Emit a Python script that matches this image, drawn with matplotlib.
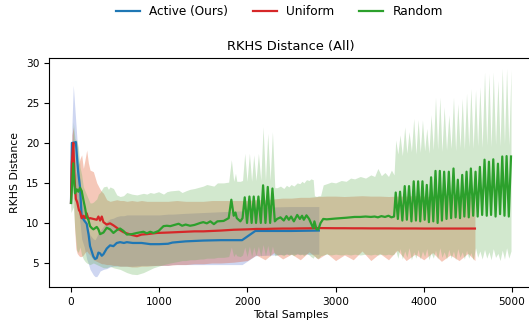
import numpy as np
import matplotlib
matplotlib.use("Agg")
import matplotlib.pyplot as plt

# ---- Active (Ours) ----
act_x = [0, 10, 26, 55, 80, 102, 121, 150, 178, 200, 216, 254, 273, 292, 311, 330, 349, 368, 405, 443,
         481, 519, 557, 600, 633, 700, 800, 900, 1000, 1100, 1150, 1300, 1500, 1700, 1940, 2090, 2300, 2500, 2810]
act_mean = [12.5, 20.0, 20.0, 20.1, 16.5, 14.5, 10.8, 10.3, 9.9, 8.5, 7.1, 5.8, 5.5, 5.6, 6.3, 6.2, 5.9, 6.1, 6.8, 7.2,
            7.1, 7.5, 7.6, 7.5, 7.6, 7.5, 7.5, 7.35, 7.35, 7.4, 7.55, 7.7, 7.8, 7.85, 7.85, 9.0, 9.0, 9.0, 9.05]
act_hi = [13.5, 22.0, 27.2, 22.5, 18.5, 15.4, 12.9, 11.5, 9.6, 9.0, 8.5, 8.0, 7.9, 8.3, 8.8, 9.0, 9.3, 9.6, 10.2, 10.5,
          10.6, 10.8, 10.9, 10.9, 11.0, 11.0, 11.0, 11.0, 11.0, 11.1, 11.1, 11.2, 11.3, 11.4, 11.5, 12.0, 12.0, 12.05, 12.05]
act_lo = [11.3, 16.0, 14.0, 13.0, 12.0, 10.0, 8.0, 7.0, 5.5, 4.8, 4.2, 3.5, 3.3, 3.3, 3.6, 4.0, 4.1, 4.2, 4.3, 4.5,
          4.6, 4.6, 4.6, 4.6, 4.6, 4.6, 4.7, 4.7, 4.7, 4.7, 4.8, 4.8, 4.8, 4.8, 4.8, 5.9, 6.0, 6.1, 6.1]

# ---- Uniform ----
uni_x_a = [0, 10, 26, 40, 55, 70, 90, 102, 121, 140, 159, 178, 197, 216, 254, 292, 311, 330, 349, 368,
           405, 443, 481, 519, 557, 595, 633, 690, 747, 800, 860, 974, 1100, 1200, 1300, 1400, 1500, 1600, 1700, 1845]
uni_mean_a = [12.5, 17.5, 20.0, 15.5, 13.0, 12.6, 11.6, 11.4, 10.6, 10.9, 10.6, 11.2, 10.5, 10.6, 10.5, 10.4, 10.8, 10.3, 10.8, 10.1,
              9.8, 9.95, 9.7, 9.4, 9.1, 8.85, 8.7, 8.5, 8.35, 8.55, 8.6, 8.75, 8.8, 8.85, 8.9, 8.95, 8.95, 9.0, 9.05, 9.15]
uni_hi_a = [13.5, 21.0, 22.0, 19.0, 16.0, 17.0, 17.5, 18.0, 18.5, 16.8, 17.9, 19.1, 17.5, 16.6, 16.4, 15.0, 14.6, 14.2, 13.9, 13.7,
            12.9, 12.7, 12.8, 12.9, 12.8, 12.8, 12.7, 12.8, 12.7, 12.8, 12.7, 12.7, 12.7, 12.8, 12.7, 12.7, 12.7, 12.8, 12.8, 12.8]
uni_lo_a = [11.4, 14.0, 15.0, 9.5, 6.8, 6.2, 5.9, 5.8, 5.8, 6.0, 6.3, 6.5, 6.2, 6.0, 5.4, 5.2, 5.1, 5.0, 4.9, 4.9,
            4.8, 4.8, 4.7, 4.7, 4.6, 4.6, 4.6, 4.5, 4.5, 4.6, 4.6, 4.7, 4.7, 4.8, 4.8, 4.9, 4.9, 5.0, 5.0, 5.1]
uni_x_b = [2000, 2100, 2200, 2300, 2400, 2500, 2600, 2700, 2800, 2900, 3000, 3100, 3200, 3300,
           3400, 3500, 3600, 3700, 3800, 3900, 4000, 4100, 4200, 4300, 4400, 4500, 4580]
uni_mean_b = [9.2, 9.25, 9.25, 9.28, 9.3, 9.3, 9.32, 9.33, 9.36, 9.35, 9.34, 9.34, 9.33, 9.33,
              9.32, 9.32, 9.32, 9.31, 9.31, 9.31, 9.3, 9.3, 9.3, 9.3, 9.3, 9.3, 9.3]
uni_hi_b = [12.8, 12.9, 12.9, 13.0, 13.1, 13.1, 13.2, 13.2, 13.3, 13.35, 13.35, 13.3, 13.35, 13.4,
            13.35, 13.35, 13.3, 13.35, 13.35, 13.4, 13.35, 13.3, 13.35, 13.35, 13.3, 13.35, 13.3]
uni_lo_b = [5.3, 6.0, 5.4, 6.3, 5.5, 6.1, 5.4, 6.4, 5.5, 6.2, 5.3, 6.0, 5.4, 6.5,
            5.3, 6.2, 5.4, 6.6, 5.3, 6.1, 5.4, 6.3, 5.2, 6.0, 5.3, 6.2, 5.3]

# ---- Random ----
rnd_x_a = [0, 26, 45, 65, 83, 102, 121, 140, 159, 178, 197, 216, 235, 254, 292, 311, 330, 368, 405, 424,
           443, 481, 519, 557, 595, 633, 690, 747, 822, 860, 898, 936, 993, 1049, 1087, 1125, 1220, 1260, 1300, 1350,
           1400, 1466, 1500, 1540, 1580, 1620, 1660, 1730, 1788]
rnd_mean_a = [12.5, 17.45, 13.7, 14.2, 13.9, 14.4, 14.0, 12.9, 11.9, 10.7, 10.4, 9.6, 9.36, 9.2, 9.5, 9.2, 8.6, 8.8, 9.4, 9.3,
              9.2, 8.75, 9.1, 9.3, 9.0, 8.55, 8.6, 8.75, 8.9, 8.7, 8.9, 8.75, 9.0, 9.6, 9.65, 9.6, 9.9, 9.65, 9.8, 9.65,
              9.75, 10.0, 10.1, 9.95, 10.2, 9.85, 10.2, 10.25, 10.6]
rnd_hi_a = [13.5, 22.6, 20.5, 20.3, 19.5, 17.0, 16.0, 14.5, 14.0, 13.5, 13.0, 12.5, 12.5, 12.6, 13.0, 13.6, 13.8, 14.5, 14.6, 14.2,
            14.5, 14.3, 13.5, 13.3, 13.4, 13.8, 13.6, 13.5, 13.7, 13.6, 13.8, 13.7, 13.9, 13.6, 13.9, 14.0, 14.1, 13.8, 14.0, 14.2,
            14.3, 14.5, 14.6, 14.8, 14.7, 14.6, 15.0, 15.0, 15.1]
rnd_lo_a = [11.3, 12.0, 9.0, 6.6, 6.3, 7.0, 6.0, 5.5, 5.2, 5.0, 4.9, 4.8, 4.9, 5.0, 4.8, 4.7, 4.6, 4.4, 4.4, 4.5,
            4.6, 4.4, 4.3, 4.2, 4.0, 3.8, 3.6, 3.55, 3.8, 4.0, 4.2, 4.4, 4.6, 4.8, 4.9, 5.0, 5.2, 5.3, 5.3, 5.4,
            5.4, 5.5, 5.5, 5.6, 5.6, 5.6, 5.7, 5.7, 5.8]

rnd_x_b = [1818, 1845, 1865, 1880, 1920, 1945, 1970, 1996, 2023, 2048, 2072, 2098, 2125, 2152, 2178, 2205, 2231, 2258, 2284, 2311]
rnd_mean_b = [12.9, 10.9, 11.3, 10.6, 10.2, 10.6, 13.2, 10.0, 13.3, 10.0, 13.3, 10.0, 13.3, 10.0, 14.7, 10.0, 14.5, 10.0, 14.3, 10.2]
rnd_hi_b = [17.9, 15.2, 16.2, 15.2, 15.2, 15.3, 18.7, 15.2, 18.7, 15.2, 18.5, 15.3, 18.7, 15.3, 22.0, 15.3, 21.2, 15.3, 21.4, 14.4]
rnd_lo_b = [7.0, 5.8, 6.2, 5.9, 5.8, 6.0, 7.0, 5.8, 7.1, 5.8, 7.0, 5.9, 7.1, 5.8, 7.3, 5.9, 7.2, 5.8, 7.1, 5.9]

rnd_x_c = [2337, 2375, 2413, 2443, 2470, 2496, 2527, 2565, 2595, 2620, 2640, 2670, 2700, 2720, 2746, 2760, 2784, 2805, 2830,
           2860, 2900, 2950, 3000, 3064, 3120, 3170, 3216, 3280, 3340, 3400, 3443, 3480, 3519, 3560, 3600, 3633, 3663]
rnd_mean_c = [10.5, 10.7, 10.3, 10.85, 10.4, 10.8, 10.2, 11.0, 10.5, 10.9, 10.4, 10.95, 10.5, 10.0, 9.36, 10.2, 9.2, 9.2, 10.0,
              10.5, 10.45, 10.5, 10.55, 10.6, 10.65, 10.7, 10.75, 10.75, 10.8, 10.75, 10.8, 10.7, 10.85, 10.75, 10.9, 10.7, 10.8]
rnd_hi_c = [14.4, 14.6, 14.3, 14.7, 14.5, 14.8, 14.6, 15.0, 14.9, 15.2, 15.0, 15.4, 15.3, 15.5, 15.4, 13.4, 13.3, 13.4, 13.4,
            14.75, 14.9, 15.1, 15.0, 15.3, 15.2, 15.6, 15.5, 15.8, 15.6, 16.0, 15.8, 16.8, 15.9, 16.3, 15.8, 16.6, 16.0]
rnd_lo_c = [6.0, 6.1, 5.9, 6.2, 6.0, 6.1, 5.9, 6.2, 6.0, 6.1, 5.9, 6.2, 6.0, 5.8, 5.6, 5.9, 5.6, 5.6, 5.9,
            6.0, 6.1, 6.0, 6.1, 6.0, 6.1, 6.0, 6.1, 6.0, 6.1, 6.0, 6.1, 6.0, 6.1, 6.0, 6.1, 6.0, 6.1]

# oscillating tail of Random: peaks and troughs read separately
pk_x = [3682, 3731, 3784, 3833, 3886, 3936, 3985, 4034, 4083, 4133, 4182, 4231, 4284, 4337,
        4386, 4436, 4485, 4534, 4587, 4636, 4689, 4739, 4788, 4841, 4890, 4939, 4989]
pk_mean = [13.8, 13.9, 14.6, 14.6, 15.2, 15.2, 15.2, 14.75, 15.7, 16.5, 16.5, 16.4, 16.4, 16.8,
           15.4, 16.0, 16.4, 16.8, 16.4, 17.0, 17.9, 17.65, 17.95, 17.4, 18.3, 18.35, 18.3]
pk_hi = [20.35, 21.0, 22.0, 21.4, 23.05, 22.9, 22.85, 21.8, 23.5, 25.7, 25.7, 24.5, 23.5, 25.7,
         24.9, 25.55, 26.2, 26.8, 26.6, 27.0, 28.85, 28.65, 28.85, 27.8, 29.3, 29.3, 29.15]
pk_lo = [6.6, 6.8, 6.5, 6.9, 6.4, 6.7, 6.5, 6.8, 6.3, 6.6, 6.9, 6.4, 6.7, 6.5,
         6.8, 6.4, 6.6, 6.3, 6.9, 6.5, 6.7, 6.4, 6.8, 6.2, 6.6, 6.9, 6.5]
tr_x = [3706, 3757, 3808, 3860, 3911, 3960, 4010, 4058, 4108, 4157, 4206, 4258, 4310,
        4361, 4411, 4460, 4510, 4560, 4611, 4662, 4714, 4763, 4814, 4865, 4915, 4964]
tr_mean = [10.5, 10.3, 10.4, 10.2, 10.3, 10.2, 10.4, 10.1, 10.2, 10.0, 10.3, 10.5, 10.6,
           10.7, 10.6, 10.8, 10.7, 10.9, 10.8, 11.0, 10.9, 11.0, 10.8, 11.1, 10.9, 10.8]
tr_hi = [18.6, 18.4, 18.7, 18.9, 18.6, 18.8, 19.0, 18.7, 19.1, 19.2, 18.9, 19.1, 19.3,
         19.0, 19.4, 19.2, 19.5, 19.3, 19.6, 19.4, 19.7, 19.5, 19.8, 19.6, 19.9, 19.7]
tr_lo = [5.6, 5.5, 5.7, 5.4, 5.6, 5.5, 5.8, 5.4, 5.6, 5.5, 5.7, 5.5, 5.6,
         5.4, 5.7, 5.5, 5.6, 5.4, 5.7, 5.5, 5.6, 5.4, 5.7, 5.3, 5.5, 5.6]


def interleave(a, b):
    out = np.empty(len(a) + len(b))
    out[0::2] = a
    out[1::2] = b
    return out


osc_x = interleave(pk_x, tr_x)
osc_mean = interleave(pk_mean, tr_mean)
osc_hi = interleave(pk_hi, tr_hi)
osc_lo = interleave(pk_lo, tr_lo)

uni_x = np.concatenate([uni_x_a, uni_x_b])
uni_mean = np.concatenate([uni_mean_a, uni_mean_b])
uni_hi = np.concatenate([uni_hi_a, uni_hi_b])
uni_lo = np.concatenate([uni_lo_a, uni_lo_b])

rnd_x = np.concatenate([rnd_x_a, rnd_x_b, rnd_x_c, osc_x])
rnd_mean = np.concatenate([rnd_mean_a, rnd_mean_b, rnd_mean_c, osc_mean])
rnd_hi = np.concatenate([rnd_hi_a, rnd_hi_b, rnd_hi_c, osc_hi])
rnd_lo = np.concatenate([rnd_lo_a, rnd_lo_b, rnd_lo_c, osc_lo])

series = [
    ("Active (Ours)", act_x, act_mean, act_lo, act_hi, "#1f77b4", "#4a68cc", 0.27),
    ("Uniform", uni_x, uni_mean, uni_lo, uni_hi, "#d62728", "#e04a1a", 0.3),
    ("Random", rnd_x, rnd_mean, rnd_lo, rnd_hi, "#2ca02c", "#6ab35e", 0.3),
]

fig = plt.figure(figsize=(5.29, 3.22), dpi=100)
ax = fig.add_axes([49 / 529, 35 / 322, 484 / 529, 229 / 322])

for name, x, m, lo, hi, c, fc, a in series:
    ax.fill_between(x, lo, hi, color=fc, alpha=a, linewidth=0)

handles = []
for name, x, m, lo, hi, c, fc, a in series:
    h, = ax.plot(x, m, color=c, linewidth=1.6, label=name)
    handles.append(h)

# the right edge of the box falls just outside the saved picture
ax.spines["right"].set_visible(False)

ax.set_title("RKHS Distance (All)", fontsize=9.4)
ax.set_xlabel("Total Samples", fontsize=7.8, labelpad=2)
ax.set_ylabel("RKHS Distance", fontsize=7.8)
ax.tick_params(labelsize=7.6)

fig.legend(handles, [h.get_label() for h in handles], loc="center",
           bbox_to_anchor=(0.528, 0.963), ncol=3, frameon=False, fontsize=8.7)

fig.savefig("out.png", dpi=100)
